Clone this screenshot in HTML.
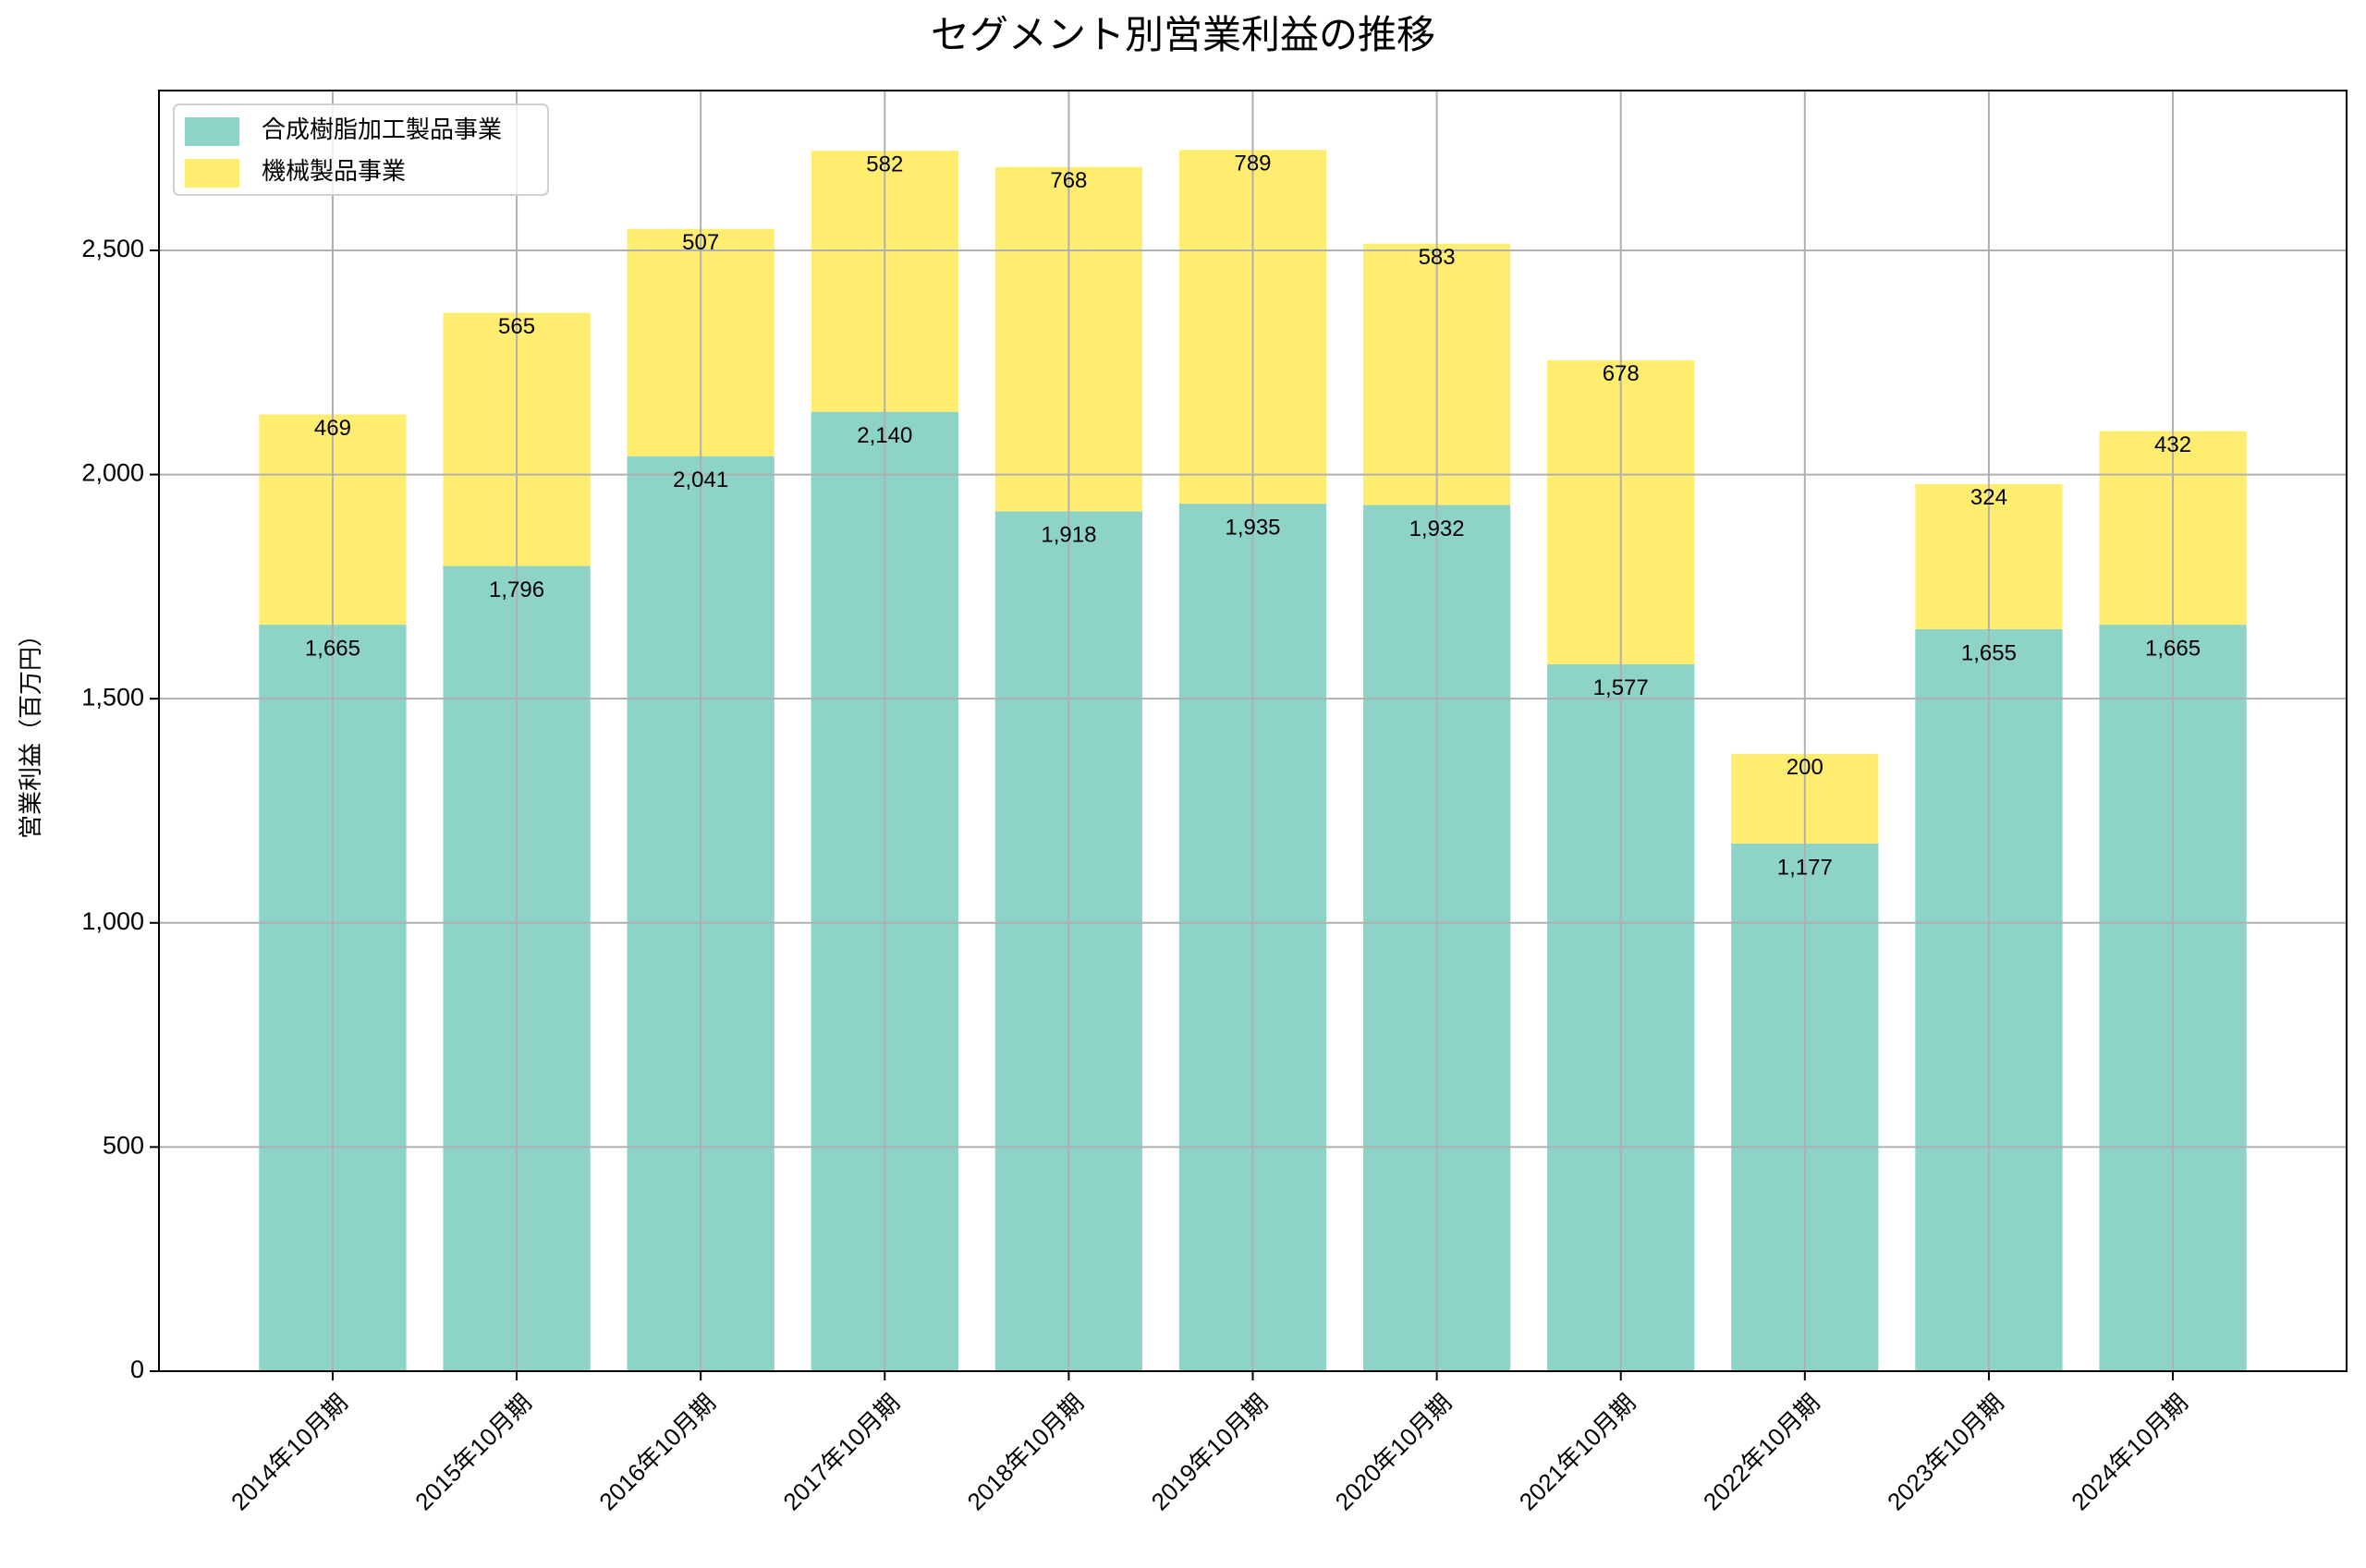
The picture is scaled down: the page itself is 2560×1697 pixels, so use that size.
<!DOCTYPE html>
<html><head><meta charset="utf-8"><style>
html,body{margin:0;padding:0;background:#fff}
svg{display:block;font-family:"Liberation Sans","Noto Sans CJK JP",sans-serif}
</style></head><body>
<svg id="chart" width="2560" height="1697" viewBox="0 0 2560 1697" xmlns="http://www.w3.org/2000/svg">
<rect width="2560" height="1697" fill="#fff"/>
<text x="1280" y="41" font-size="42" text-anchor="middle" dominant-baseline="middle" font-family="Liberation Sans, Noto Sans CJK JP, sans-serif">セグメント別営業利益の推移</text>
<text transform="translate(35,791) rotate(-90)" font-size="26" text-anchor="middle" dominant-baseline="middle">営業利益（百万円）</text>
<g id="bars"></g>
<g id="grid"></g>
<g id="labels"></g>
<rect x="172" y="98" width="2367" height="1386" fill="none" stroke="#000" stroke-width="2"/>
<g id="ticks"></g>
<g>
<rect x="188" y="113" width="405" height="98" rx="6" fill="#fff" fill-opacity="0.8" stroke="#d0d0d0" stroke-width="2"/>
<rect x="200" y="127" width="59" height="31" fill="#8dd3c7"/>
<text x="283" y="142" font-size="26" dominant-baseline="middle">合成樹脂加工製品事業</text>
<rect x="200" y="172" width="59" height="31" fill="#ffed6f"/>
<text x="283" y="187" font-size="26" dominant-baseline="middle">機械製品事業</text>
</g>
</svg>
<script>
const categories=["2014年10月期","2015年10月期","2016年10月期","2017年10月期","2018年10月期","2019年10月期","2020年10月期","2021年10月期","2022年10月期","2023年10月期","2024年10月期"];
const resinValues=[1665,1796,2041,2140,1918,1935,1932,1577,1177,1655,1665];
const machineryValues=[469,565,507,582,768,789,583,678,200,324,432];
const yTickValues=[0,500,1000,1500,2000,2500];
const yTickLabels=["0","500","1,000","1,500","2,000","2,500"];
const NS="http://www.w3.org/2000/svg";
const L=172,R=2539,T=98,B=1484;
const yMax=2856.5;
const xMin=-0.944,xMax=categories.length-1+0.944;
const x=i=>L+(i-xMin)/(xMax-xMin)*(R-L);
const y=v=>B-v/yMax*(B-T);
const bw=(x(1)-x(0))*0.8;
function mk(tag,attrs,parent){const e=document.createElementNS(NS,tag);for(const k in attrs)e.setAttribute(k,attrs[k]);parent.appendChild(e);return e;}
const gb=document.getElementById('bars'),gg=document.getElementById('grid'),gl=document.getElementById('labels'),gt=document.getElementById('ticks');
const fmt=v=>v.toLocaleString('en-US');
categories.forEach((c,i)=>{
  const r1=mk('rect',{x:x(i)-bw/2,y:y(resinValues[i]),width:bw,height:B-y(resinValues[i]),fill:'#8dd3c7'},gb);
  
  
  const top=resinValues[i]+machineryValues[i];
  const r2=mk('rect',{x:x(i)-bw/2,y:y(top),width:bw,height:y(resinValues[i])-y(top),fill:'#ffed6f'},gb);
  
  
  const gv=mk('line',{x1:x(i),x2:x(i),y1:T,y2:B,stroke:'#b0b0b0','stroke-width':2},gg);
  
  
  const t1=mk('text',{x:x(i),y:y(resinValues[i])+27,'font-size':24,'text-anchor':'middle','dominant-baseline':'middle'},gl);
  t1.textContent=fmt(resinValues[i]);
  
  
  const t2=mk('text',{x:x(i),y:y(top)+16,'font-size':24,'text-anchor':'middle','dominant-baseline':'middle'},gl);
  t2.textContent=fmt(machineryValues[i]);
  
  
  const tk=mk('line',{x1:x(i),x2:x(i),y1:B,y2:B+10,stroke:'#000','stroke-width':2},gt);
  
  
  const xl=mk('text',{transform:`translate(${x(i)+4},${B+22}) rotate(-45)`,'font-size':26,'text-anchor':'end','dominant-baseline':'hanging'},gt);
  xl.textContent=c;
  
  
});
yTickValues.forEach((v,j)=>{
  if(v>0){const gh=mk('line',{x1:L,x2:R,y1:y(v),y2:y(v),stroke:'#b0b0b0','stroke-width':2},gg);
  
  }
  const tk=mk('line',{x1:L-10,x2:L,y1:y(v),y2:y(v),stroke:'#000','stroke-width':2},gt);
  
  
  const tl=mk('text',{x:L-16,y:y(v),'font-size':27,'text-anchor':'end','dominant-baseline':'middle'},gt);
  tl.textContent=yTickLabels[j];
  
  
});
</script>
</body></html>
